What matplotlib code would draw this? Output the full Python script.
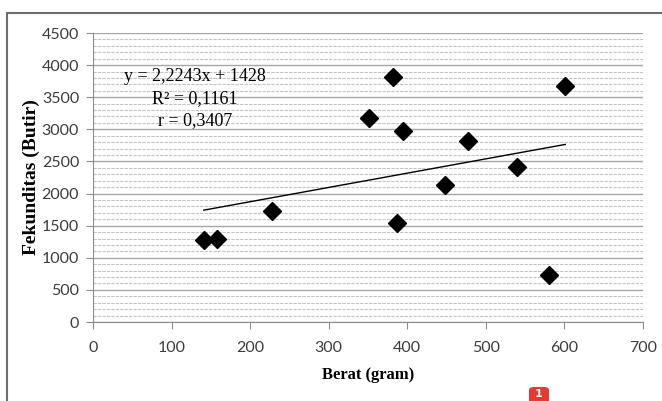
import numpy as np
import matplotlib.pyplot as plt
from matplotlib.patches import Rectangle, FancyBboxPatch

# data
berat = [141, 158, 228, 351, 382, 395, 387, 448, 477, 540, 580, 601]
fekunditas = [1280, 1290, 1730, 3175, 3815, 2975, 1540, 2130, 2815, 2410, 730, 3675]
slope = 2.2243
intercept = 1428
eq_lines = ["y = 2,2243x + 1428", "R\u00b2 = 0,1161", "r = 0,3407"]
x_ticks = [0, 100, 200, 300, 400, 500, 600, 700]
y_ticks = [0, 500, 1000, 1500, 2000, 2500, 3000, 3500, 4000, 4500]

fig = plt.figure(figsize=(6.62, 4.01), dpi=100)
ax = fig.add_axes([0.1405, 0.197, 0.8308, 0.7207])

# outer chart-area frame (top and left edges visible only)
fig.patches.append(Rectangle((7 / 662, -0.1), 1.0, (401 - 13) / 401 + 0.1,
                             transform=fig.transFigure, fill=False,
                             edgecolor="#6e6e6e", lw=1.5))

ax.set_xlim(0, 700)
ax.set_ylim(0, 4500)
ax.set_xticks(x_ticks)
ax.set_yticks(y_ticks)
ax.set_yticks(np.arange(0, 4501, 100), minor=True)
ax.tick_params(axis="y", which="minor", length=0)
ax.tick_params(which="major", length=5, color="#8c8c8c", labelsize=11.5,
               labelcolor="#3c3c3c")
ax.tick_params(axis="x", pad=9)
ax.tick_params(axis="y", pad=5)
for lab in ax.get_xticklabels() + ax.get_yticklabels():
    lab.set_family("Lato")

ax.grid(axis="y", which="major", color="#a6a6a6", lw=1.0)
ax.grid(axis="y", which="minor", color="#c4c4c4", lw=0.8, linestyle=(0, (3, 1)))
ax.set_axisbelow(True)
for s in ["top", "right"]:
    ax.spines[s].set_visible(False)
for s in ["left", "bottom"]:
    ax.spines[s].set_color("#8c8c8c")

ax.plot(berat, fekunditas, "D", color="black", ms=9, zorder=3)

xs = np.array([min(berat), max(berat)])
ax.plot(xs, slope * xs + intercept, color="black", lw=1.0, zorder=2)

ax.text(130, 3475, "\n".join(eq_lines), ha="center", va="center",
        fontsize=13, family="Liberation Serif", linespacing=1.4)

ax.set_xlabel("Berat (gram)", fontsize=12, fontweight="bold",
              family="Liberation Serif", labelpad=8)
ax.set_ylabel("Fekunditas (Butir)", fontsize=14, fontweight="bold",
              family="Liberation Serif", labelpad=1)

# red badge at bottom
fig.patches.append(FancyBboxPatch((529 / 662, -0.01), 20 / 662, 0.045,
                                  boxstyle="round,pad=0,rounding_size=0.008",
                                  transform=fig.transFigure,
                                  facecolor="#e53935", edgecolor="none"))
fig.text(539 / 662, 0.005, "1", color="white", fontsize=8, ha="center",
         va="bottom", fontweight="bold")

fig.savefig("out.png", dpi=100)
